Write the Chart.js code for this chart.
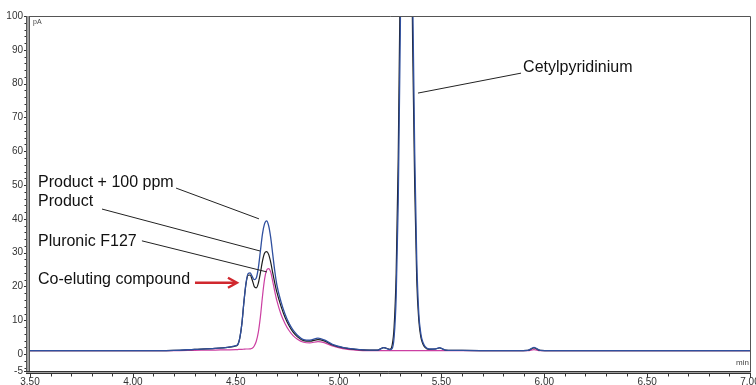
<!DOCTYPE html>
<html><head><meta charset="utf-8">
<script src="https://cdn.jsdelivr.net/npm/chart.js@4"></script>
<style>html,body{margin:0;padding:0;background:#fff}#wrap{width:756px;height:385px}</style>
</head><body><div id="wrap"><canvas id="c" width="756" height="385"></canvas></div>
<script>
// Retention time (min)
const times = [
  3.50, 4.00, 4.20, 4.30, 4.40, 4.46, 4.50,
  4.51, 4.52, 4.53, 4.54, 4.55, 4.56, 4.57, 4.58, 4.59, 4.60,
  4.61, 4.62, 4.63, 4.64, 4.65, 4.66, 4.67, 4.68, 4.69, 4.70,
  4.72, 4.74, 4.76, 4.78, 4.80, 4.83, 4.86, 4.90, 4.93, 4.97, 5.02, 5.08, 5.15,
  5.19, 5.22, 5.25, 5.26, 5.27, 5.28, 5.29, 5.30, 5.31, 5.32, 5.33, 5.34,
  5.35, 5.36, 5.37, 5.38, 5.39, 5.40, 5.41, 5.42, 5.44, 5.47, 5.49, 5.52,
  5.60, 5.80, 5.92, 5.95, 5.98, 6.10, 6.50, 6.90, 7.00
];
// Signal (pA)
const productSpiked = [
  1.0, 1.0, 1.1, 1.4, 1.7, 2.0, 2.5,
  2.8, 4.8, 9.0, 15.5, 21.0, 23.8, 24.0, 23.0, 22.0, 22.5,
  25.5, 30.5, 35.5, 38.5, 39.4, 38.0, 34.5, 29.5, 24.5, 20.5,
  15.5, 11.8, 9.0, 7.0, 5.6, 4.3, 4.1, 4.7, 4.2, 2.9, 2.0, 1.5, 1.2,
  1.2, 1.9, 1.3, 1.6, 5, 17, 45, 95, 165, 225, 250, 232,
  172, 107, 60, 28, 12, 6, 3.5, 2.3, 1.5, 1.5, 1.9, 1.2,
  1.1, 1.0, 1.1, 2.0, 1.1, 1.0, 1.0, 1.0, 1.0
];
const product = [
  1.0, 1.0, 1.1, 1.4, 1.7, 2.0, 2.4,
  2.8, 4.8, 9.0, 15.5, 20.8, 23.3, 23.4, 22.0, 20.0, 19.6,
  21.0, 24.0, 27.5, 29.8, 30.3, 29.5, 27.2, 24.0, 21.0, 18.3,
  14.2, 10.8, 8.3, 6.4, 5.1, 4.0, 3.8, 4.3, 3.9, 2.7, 1.9, 1.4, 1.2,
  1.2, 1.9, 1.4, 2.5, 8, 24, 58, 113, 180, 234, 249, 216,
  153, 92, 50, 22, 10, 5, 3, 2, 1.4, 1.5, 1.8, 1.2,
  1.1, 1.0, 1.1, 1.8, 1.1, 1.0, 1.0, 1.0, 1.0
];
const pluronic = [
  1.0, 1.0, 1.0, 1.1, 1.2, 1.25, 1.3,
  1.35, 1.4, 1.4, 1.45, 1.5, 1.5, 1.55, 1.7, 2.4, 3.8,
  6.5, 11.0, 17.0, 22.0, 24.8, 25.3, 24.3, 21.5, 18.5, 15.8,
  11.8, 9.0, 6.9, 5.4, 4.4, 3.5, 3.3, 3.7, 3.4, 2.4, 1.6, 1.2, 1.0,
  1.0, 1.0, 1.0, 1.0, 1.0, 1.0, 1.0, 1.0, 1.0, 1.0, 1.0, 1.0,
  1.0, 1.0, 1.0, 1.0, 1.0, 1.0, 1.0, 1.0, 1.0, 1.0, 1.0, 1.0,
  1.0, 1.0, 1.0, 1.3, 1.0, 1.0, 1.0, 1.0, 1.0
];
const seriesNames = ['Product + 100 ppm', 'Product', 'Pluronic F127'];
const xTickValues = [3.5, 4.0, 4.5, 5.0, 5.5, 6.0, 6.5, 7.0];
const yTickValues = [-5, 0, 10, 20, 30, 40, 50, 60, 70, 80, 90, 100];
const xMinorStep = 0.1;
const yMinorStep = 2;
const xUnit = 'min';
const yUnit = 'pA';

// Annotations (data coordinates: time, pA)
const annotationTexts = [
  {text: 'Product + 100 ppm', t: 3.539, v: 49.3},
  {text: 'Product', t: 3.539, v: 43.7},
  {text: 'Pluronic F127', t: 3.539, v: 32.0},
  {text: 'Co-eluting compound', t: 3.539, v: 20.6},
  {text: 'Cetylpyridinium', t: 5.897, v: 83.3}
];
const leaderLines = [
  {t1: 4.210, v1: 49.1, t2: 4.613, v2: 40.0},
  {t1: 3.850, v1: 42.9, t2: 4.618, v2: 30.5},
  {t1: 4.044, v1: 33.5, t2: 4.652, v2: 24.3},
  {t1: 5.386, v1: 77.2, t2: 5.887, v2: 83.1}
];
const arrowLine = {t1: 4.302, t2: 4.506, v: 21.1};

const FONT = '"Liberation Sans", Arial, Helvetica, sans-serif';

const toPts = arr => times.map((t, i) => ({x: t, y: arr[i]}));

const decor = {
  id: 'decor',
  afterDatasetsDraw(chart) {
    const {ctx, chartArea: a, scales: {x, y}} = chart;
    ctx.save();
    // frame top/right
    ctx.strokeStyle = '#555';
    ctx.lineWidth = 1;
    ctx.beginPath();
    ctx.moveTo(a.left, a.top + 0.5); ctx.lineTo(a.right + 0.5, a.top + 0.5);
    ctx.lineTo(a.right + 0.5, a.bottom);
    ctx.stroke();
    // left axis (thick gray double)
    ctx.fillStyle = '#a0a0a0';
    ctx.fillRect(a.left - 4, a.top, 4, a.bottom - a.top + 2);
    ctx.strokeStyle = '#555';
    ctx.beginPath();
    ctx.moveTo(a.left - 3.5, a.top); ctx.lineTo(a.left - 3.5, a.bottom + 2);
    ctx.moveTo(a.left - 0.5, a.top); ctx.lineTo(a.left - 0.5, a.bottom + 2);
    ctx.stroke();
    // bottom axis
    ctx.fillStyle = '#a0a0a0';
    ctx.fillRect(a.left - 4, a.bottom, a.right - a.left + 5, 3);
    ctx.strokeStyle = '#333';
    ctx.beginPath();
    ctx.moveTo(a.left - 4, a.bottom + 0.5); ctx.lineTo(a.right + 1, a.bottom + 0.5);
    ctx.moveTo(a.left - 4, a.bottom + 2.5); ctx.lineTo(a.right + 1, a.bottom + 2.5);
    ctx.stroke();
    // x ticks
    ctx.strokeStyle = '#333';
    ctx.beginPath();
    const nx = Math.round((x.max - x.min) / xMinorStep);
    for (let i = 0; i <= nx; i++) {
      const t = x.min + i * xMinorStep;
      const px = Math.round(x.getPixelForValue(t)) + 0.5;
      const major = xTickValues.some(v => Math.abs(v - t) < 1e-6);
      ctx.moveTo(px, a.bottom + 3);
      ctx.lineTo(px, a.bottom + (major ? 7 : 5.5));
    }
    // y ticks
    for (let v = Math.ceil(y.min / yMinorStep) * yMinorStep; v <= y.max + 1e-6; v += yMinorStep) {
      const py = Math.round(y.getPixelForValue(v)) + 0.5;
      ctx.moveTo(a.left - 4, py);
      ctx.lineTo(a.left - 5.5, py);
    }
    yTickValues.forEach(v => {
      const py = Math.round(y.getPixelForValue(v)) + 0.5;
      ctx.moveTo(a.left - 4, py);
      ctx.lineTo(a.left - 6, py);
    });
    ctx.stroke();
    // unit labels
    ctx.fillStyle = '#444';
    ctx.font = '7px ' + FONT;
    ctx.textBaseline = 'top';
    ctx.textAlign = 'left';
    ctx.fillText(yUnit, a.left + 3, a.top + 3);
    ctx.font = '8px ' + FONT;
    ctx.textAlign = 'right';
    ctx.textBaseline = 'alphabetic';
    ctx.fillText(xUnit, a.right - 1, a.bottom - 6);

    // annotations
    ctx.fillStyle = '#111';
    ctx.font = '16px ' + FONT;
    ctx.textAlign = 'left';
    annotationTexts.forEach(o => {
      ctx.fillText(o.text, x.getPixelForValue(o.t), y.getPixelForValue(o.v));
    });
    ctx.strokeStyle = '#222';
    ctx.lineWidth = 1;
    ctx.beginPath();
    leaderLines.forEach(l => {
      ctx.moveTo(x.getPixelForValue(l.t1), y.getPixelForValue(l.v1));
      ctx.lineTo(x.getPixelForValue(l.t2), y.getPixelForValue(l.v2));
    });
    ctx.stroke();
    // red arrow
    const ax1 = x.getPixelForValue(arrowLine.t1), ax2 = x.getPixelForValue(arrowLine.t2);
    const ay = y.getPixelForValue(arrowLine.v);
    ctx.strokeStyle = '#d0282e';
    ctx.lineWidth = 2.4;
    ctx.lineCap = 'butt';
    ctx.beginPath();
    ctx.moveTo(ax1, ay); ctx.lineTo(ax2 - 1.5, ay);
    ctx.stroke();
    ctx.beginPath();
    ctx.moveTo(ax2 - 9, ay - 5); ctx.lineTo(ax2, ay); ctx.lineTo(ax2 - 9, ay + 5);
    ctx.stroke();
    ctx.restore();
  }
};

new Chart(document.getElementById('c'), {
  type: 'scatter',
  data: {
    datasets: [
      {label: seriesNames[0], data: toPts(productSpiked), borderColor: '#30509f', borderWidth: 1.3},
      {label: seriesNames[1], data: toPts(product), borderColor: '#1c1c1c', borderWidth: 1.2},
      {label: seriesNames[2], data: toPts(pluronic), borderColor: '#cc3fa2', borderWidth: 1.2}
    ].map(d => Object.assign(d, {showLine: true, pointRadius: 0, pointHoverRadius: 0,
      cubicInterpolationMode: 'monotone', fill: false, clip: 0}))
  },
  options: {
    responsive: false,
    animation: false,
    devicePixelRatio: 1,
    layout: {padding: {top: 16, right: 6, left: 0, bottom: 0}},
    plugins: {legend: {display: false}, tooltip: {enabled: false}},
    scales: {
      x: {
        type: 'linear', min: 3.5, max: 7.0,
        grid: {display: false, drawTicks: false},
        border: {display: false},
        afterBuildTicks: s => { s.ticks = xTickValues.map(v => ({value: v})); },
        afterFit: s => { s.height = 14; s.paddingLeft = 0; s.paddingRight = 0; },
        ticks: {padding: 5, maxRotation: 0, autoSkip: false, color: '#333',
          font: {family: FONT, size: 10}, callback: v => Number(v).toFixed(2)}
      },
      y: {
        type: 'linear', min: -5, max: 100,
        grid: {display: false, drawTicks: false},
        border: {display: false},
        afterBuildTicks: s => { s.ticks = yTickValues.map(v => ({value: v})); },
        afterFit: s => { s.width = 30; s.paddingTop = 0; s.paddingBottom = 0; },
        ticks: {padding: 7, autoSkip: false, color: '#333',
          font: {family: FONT, size: 10}, callback: v => String(v)}
      }
    }
  },
  plugins: [decor]
});
</script></body></html>
